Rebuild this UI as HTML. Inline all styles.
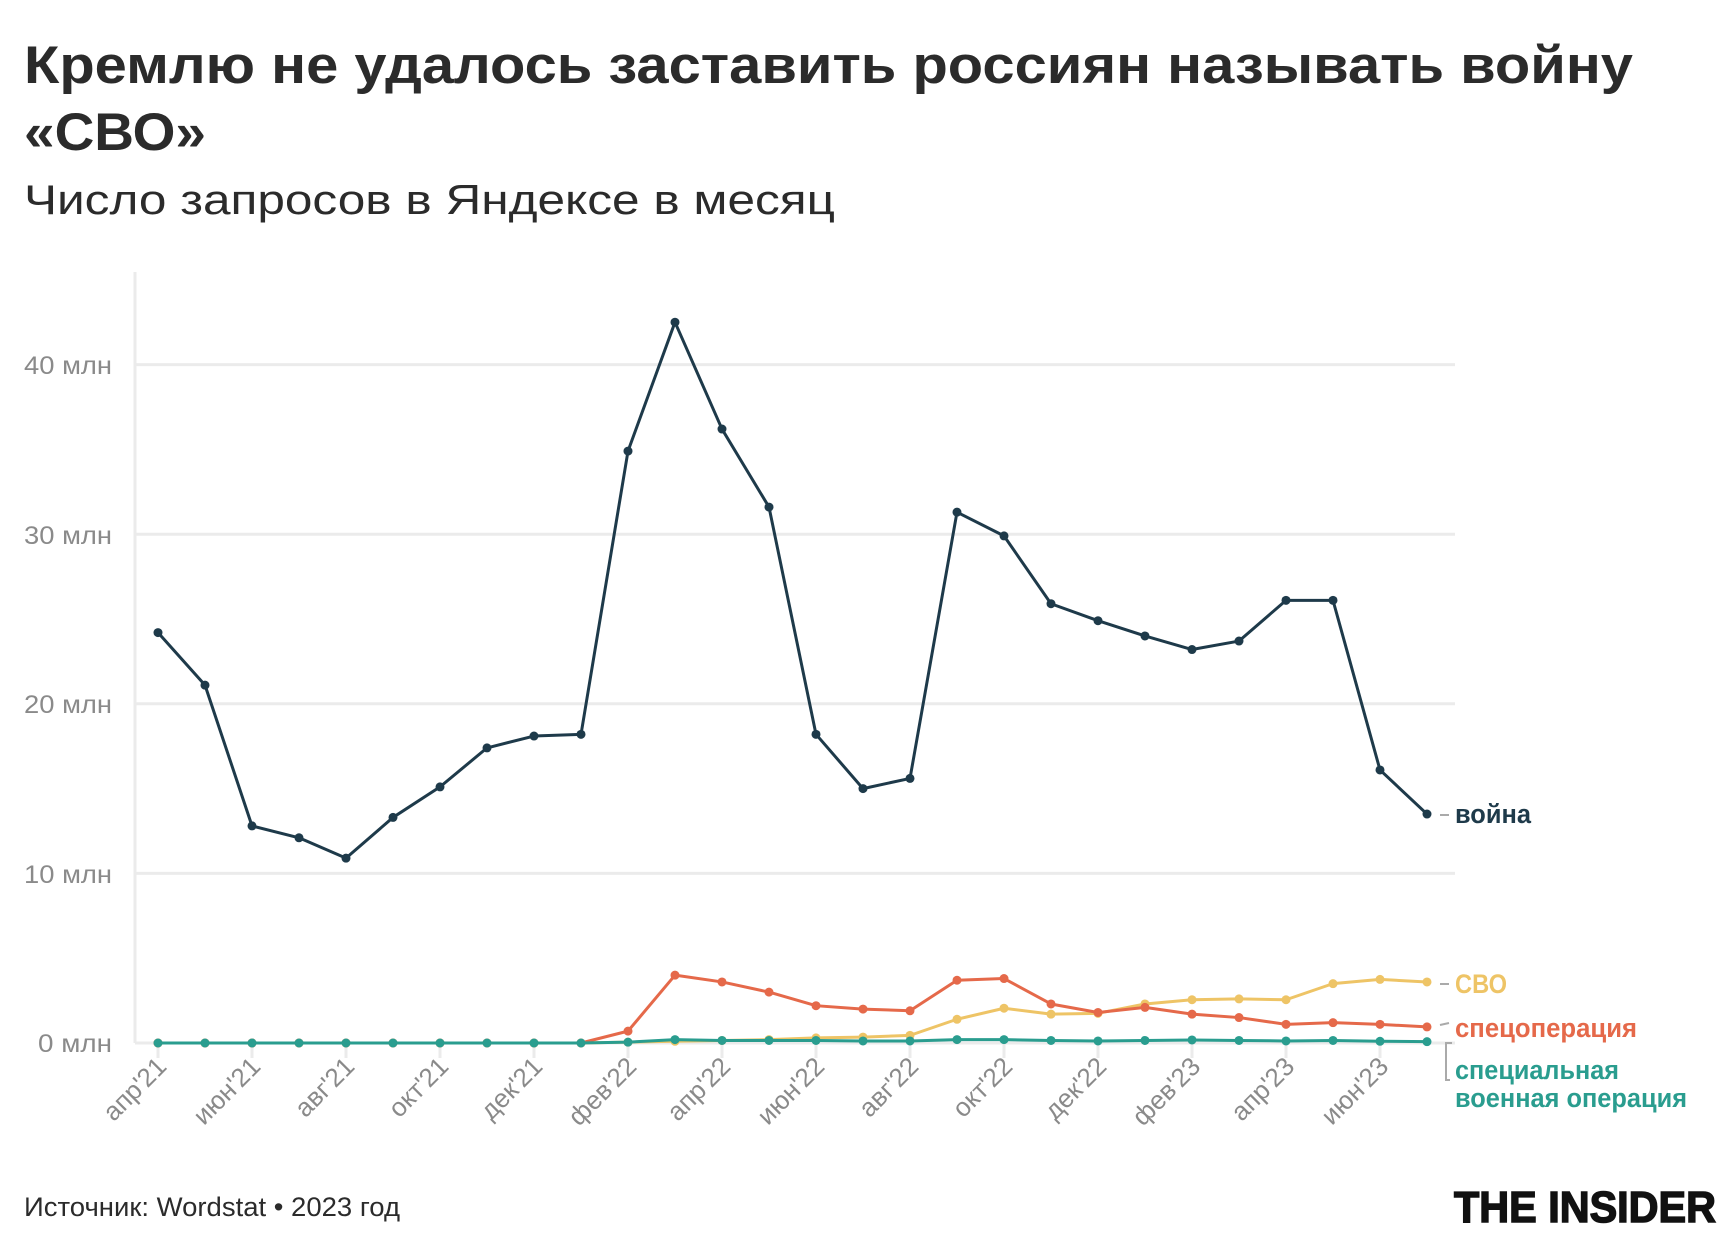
<!DOCTYPE html>
<html><head><meta charset="utf-8"><style>
html,body{margin:0;padding:0;background:#fff;}
svg{display:block}
</style></head><body>
<svg id="s" width="1732" height="1251" xmlns="http://www.w3.org/2000/svg" font-family="'Liberation Sans', sans-serif">
<text x="24" y="83" font-size="53" font-weight="bold" fill="#2b2b2b" textLength="1609" lengthAdjust="spacingAndGlyphs">Кремлю не удалось заставить россиян называть войну</text>
<text x="24" y="150" font-size="53" font-weight="bold" fill="#2b2b2b" textLength="182" lengthAdjust="spacingAndGlyphs">«СВО»</text>
<text x="24" y="214" font-size="42" fill="#2b2b2b" textLength="811" lengthAdjust="spacingAndGlyphs">Число запросов в Яндексе в месяц</text>
<g id="grid" stroke="#ebebeb" stroke-width="3"></g>
<g font-size="25" fill="#8a8a8a" text-anchor="end">
<text x="112" y="374" textLength="88" lengthAdjust="spacingAndGlyphs">40 млн</text>
<text x="112" y="544" textLength="88" lengthAdjust="spacingAndGlyphs">30 млн</text>
<text x="112" y="713" textLength="88" lengthAdjust="spacingAndGlyphs">20 млн</text>
<text x="112" y="883" textLength="88" lengthAdjust="spacingAndGlyphs">10 млн</text>
<text x="112" y="1052" textLength="74" lengthAdjust="spacingAndGlyphs">0 млн</text>
</g>
<g id="xl" font-size="26" fill="#8a8a8a" text-anchor="end"></g>
<g id="series"></g>
<g font-size="27" font-weight="bold">
<text x="1455" y="823" fill="#1e3a4a" textLength="76" lengthAdjust="spacingAndGlyphs">война</text>
<text x="1455" y="993" fill="#eec466" textLength="52" lengthAdjust="spacingAndGlyphs">СВО</text>
<text x="1455" y="1037" fill="#e5694a" textLength="182" lengthAdjust="spacingAndGlyphs">спецоперация</text>
<text x="1455" y="1079" fill="#2a9d8f" textLength="164" lengthAdjust="spacingAndGlyphs">специальная</text>
<text x="1455" y="1107" fill="#2a9d8f" textLength="232" lengthAdjust="spacingAndGlyphs">военная операция</text>
</g>
<g stroke="#aaa" stroke-width="2" fill="none">
<line x1="1440" y1="815" x2="1449" y2="815"/>
<line x1="1440" y1="984" x2="1449" y2="984"/>
<line x1="1440" y1="1025" x2="1449" y2="1023"/>
<path d="M1452 1043 H1446 V1080 H1450"/>
</g>
<text x="24" y="1216" font-size="27" fill="#2b2b2b" textLength="376" lengthAdjust="spacingAndGlyphs">Источник: Wordstat • 2023 год</text>
<text x="1454" y="1222" font-size="44" font-weight="900" fill="#111" textLength="262" lengthAdjust="spacingAndGlyphs" stroke="#111" stroke-width="1.5">THE INSIDER</text>
</svg>
<script>
const NS="http://www.w3.org/2000/svg";
const x0=158,dx=47.0,y0=1043,k=16.96;
const X=i=>x0+i*dx, Y=v=>y0-v*k;
const g=document.getElementById('grid');
function el(p,t,a){const e=document.createElementNS(NS,t);for(const q in a)e.setAttribute(q,a[q]);p.appendChild(e);return e;}
for(let v=0;v<=40;v+=10) el(g,'line',{x1:135,x2:1455,y1:Y(v),y2:Y(v)});
el(g,'line',{x1:135,x2:135,y1:272,y2:1043});
for(let i=0;i<28;i+=2) el(g,'line',{x1:X(i),x2:X(i),y1:1043,y2:1058});
const labs=["апр'21","июн'21","авг'21","окт'21","дек'21","фев'22","апр'22","июн'22","авг'22","окт'22","дек'22","фев'23","апр'23","июн'23"];
const xl=document.getElementById('xl');
labs.forEach((l,j)=>{const x=X(j*2)+10,y=1068;const t=el(xl,'text',{x:x,y:y,transform:`rotate(-45 ${x} ${y})`});t.textContent=l;});
const war=[24.2,21.1,12.8,12.1,10.9,13.3,15.1,17.4,18.1,18.2,34.9,42.5,36.2,31.6,18.2,15.0,15.6,31.3,29.9,25.9,24.9,24.0,23.2,23.7,26.1,26.1,16.1,13.5];
const svo=[0,0,0,0,0,0,0,0,0,0,0.05,0.1,0.15,0.2,0.3,0.35,0.45,1.4,2.05,1.7,1.75,2.3,2.55,2.6,2.55,3.5,3.75,3.6];
const spec=[0,0,0,0,0,0,0,0,0,0,0.7,4.0,3.6,3.0,2.2,2.0,1.9,3.7,3.8,2.3,1.8,2.1,1.7,1.5,1.1,1.2,1.1,0.95];
const full=[0,0,0,0,0,0,0,0,0,0,0.05,0.2,0.15,0.15,0.15,0.12,0.12,0.2,0.2,0.15,0.12,0.15,0.18,0.15,0.12,0.15,0.1,0.08];
const s=document.getElementById('series');
[[svo,'#eec466'],[spec,'#e5694a'],[full,'#2a9d8f'],[war,'#1e3a4a']].forEach(([d,c])=>{
 el(s,'polyline',{points:d.map((v,i)=>X(i)+','+Y(v)).join(' '),fill:'none',stroke:c,'stroke-width':3,'stroke-linejoin':'round'});
 d.forEach((v,i)=>el(s,'circle',{cx:X(i),cy:Y(v),r:4.5,fill:c}));
});
</script>
</body></html>
